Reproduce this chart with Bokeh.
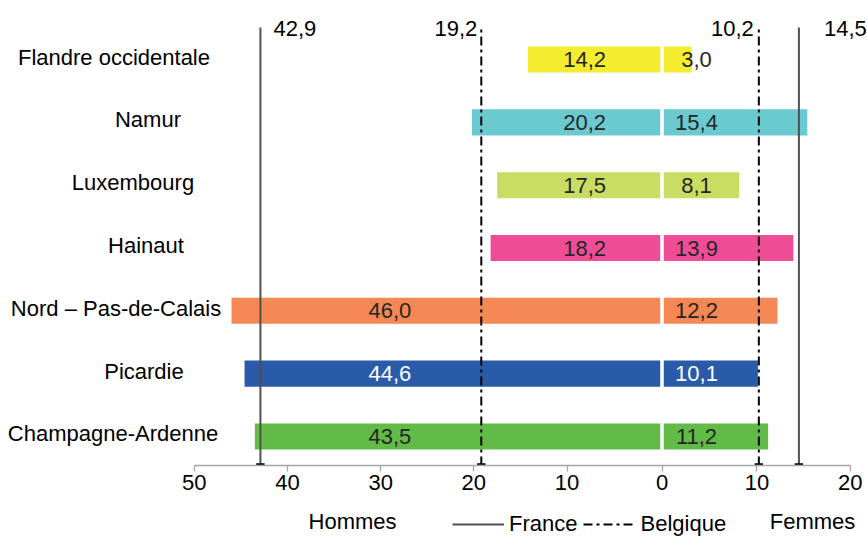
import numpy as np
from bokeh.plotting import figure
from bokeh.layouts import column
from bokeh.models import ColumnDataSource, FixedTicker, Range1d, Legend, LegendItem
from bokeh.core.properties import value
from bokeh.embed import file_html
from bokeh.resources import INLINE

# ---- data ----
regions = ["Flandre occidentale", "Namur", "Luxembourg", "Hainaut",
           "Nord – Pas-de-Calais", "Picardie", "Champagne-Ardenne"]
hommes = [14.2, 20.2, 17.5, 18.2, 46.0, 44.6, 43.5]
femmes = [3.0, 15.4, 8.1, 13.9, 12.2, 10.1, 11.2]
colors = ["#F4EC2E", "#6BCAD0", "#C9DD62", "#EF4E97", "#F58854", "#2A5BA8", "#62BB46"]
value_colors = ["#262626", "#262626", "#262626", "#262626", "#262626", "#FFFFFF", "#262626"]
france_hommes, france_femmes = 42.9, 14.5
belgique_hommes, belgique_femmes = 19.2, 10.2
left_ticks = [50, 40, 30, 20, 10, 0]
right_ticks = [10, 20]

FONT = "Liberation Sans"
FS = "22px"
g = 0.19          # half gap between the two halves
fmt = lambda v: f"{v:.1f}".replace(".", ",")

n = len(regions)
ys = np.arange(n)[::-1].astype(float)   # top row first
h = np.array(hommes)
f = np.array(femmes)

# per-label horizontal nudges (px) of the region names, as in the original layout
name_nudge = [-14, 20, 5, 18, -12, 16, -15]

xr = Range1d(-70.98, 22.05)
p = figure(width=867, height=505, x_range=xr, y_range=Range1d(-0.462, 6.94),
           min_border_left=0, min_border_right=0, min_border_top=0, min_border_bottom=40,
           y_axis_location=None, toolbar_location=None, output_backend="svg")
p.outline_line_color = None
p.xgrid.visible = False
p.ygrid.visible = False

# bars
src = ColumnDataSource(dict(y=ys, hl=-h - g, hr=np.full(n, -g), fl=np.full(n, g), fr=f + g,
                            color=colors, vc=value_colors,
                            hlab=[fmt(v) for v in hommes], flab=[fmt(v) for v in femmes],
                            hx=np.where(h > 30, -29.2, -8.3), fx=np.full(n, 3.7),
                            reg=regions, regx=np.full(n, -57.3), nudge=name_nudge))
p.hbar(y="y", left="hl", right="hr", height=0.415, fill_color="color", line_color=None, source=src)
p.hbar(y="y", left="fl", right="fr", height=0.415, fill_color="color", line_color=None, source=src)

p.text(x="hx", y="y", text="hlab", text_color="vc", text_align="center", text_baseline="middle",
       text_font=value(FONT), text_font_size=FS, source=src)
p.text(x="fx", y="y", text="flab", text_color="vc", text_align="center", text_baseline="middle",
       text_font=value(FONT), text_font_size=FS, source=src)
p.text(x="regx", y="y", text="reg", text_color="#000000", text_align="center", text_baseline="middle",
       x_offset="nudge", y_offset=-2.5, text_font=value(FONT), text_font_size=FS, source=src)

# reference lines
y_top = 6.51
y_bot = -0.462
fr_x = [-france_hommes - g, france_femmes + g]
be_x = [-belgique_hommes - g, belgique_femmes + g]
fr_style = dict(line_color="#505050", line_width=2)
be_style = dict(line_color="#000000", line_width=2, line_dash="9 4 3 4")
p.segment(x0=fr_x, y0=[y_bot] * 2, x1=fr_x, y1=[y_top] * 2, **fr_style)
p.segment(x0=be_x, y0=[y_bot] * 2, x1=be_x, y1=[y_top] * 2, **be_style)
caps = fr_x + be_x
p.segment(x0=[c - 0.45 for c in caps], y0=[y_bot + 0.02] * 4, x1=[c + 0.45 for c in caps],
          y1=[y_bot + 0.02] * 4, line_color="#000000", line_width=2)

top_src = ColumnDataSource(dict(
    x=[fr_x[0], be_x[0], be_x[1], fr_x[1]],
    t=[fmt(france_hommes), fmt(belgique_hommes), fmt(belgique_femmes), fmt(france_femmes)],
    al=["left", "right", "right", "left"],
    xo=[13, -4, -5, 25]))
p.text(x="x", y=6.494, text="t", text_align="al", x_offset="xo", text_baseline="middle",
       text_color="#000000", text_font=value(FONT), text_font_size=FS, source=top_src)

# x axis
tick_vals = [-(t + g) if t else 0.0 for t in left_ticks] + [t + g for t in right_ticks]
tick_labs = [str(t) for t in left_ticks] + [str(t) for t in right_ticks]
ax = p.xaxis[0]
ax.ticker = FixedTicker(ticks=tick_vals)
ax.major_label_overrides = {v: l for v, l in zip(tick_vals, tick_labs)}
ax.bounds = (-(left_ticks[0] + g), right_ticks[-1] + g)
ax.axis_line_color = "#A6A6A6"
ax.axis_line_width = 1.3
ax.major_tick_line_color = "#A6A6A6"
ax.major_tick_line_width = 1.3
ax.major_tick_in = 0
ax.major_tick_out = 6
ax.minor_tick_in = 0
ax.minor_tick_out = 0
ax.major_label_standoff = 3
ax.major_label_text_font = FONT
ax.major_label_text_font_size = FS
ax.major_label_text_color = "#000000"

# bottom strip: side labels and legend
p2 = figure(width=867, height=32, x_range=xr, y_range=Range1d(0, 32),
            min_border=0, x_axis_location=None, y_axis_location=None,
            toolbar_location=None, output_backend="svg")
p2.outline_line_color = None
p2.grid.visible = False
# legend proxies (same reference values, kept outside this strip's visible range)
r_fr = p2.segment(x0=fr_x, y0=[-50] * 2, x1=fr_x, y1=[-40] * 2, **fr_style)
r_be = p2.segment(x0=be_x, y0=[-50] * 2, x1=be_x, y1=[-40] * 2, **be_style)
p2.text(x=[-33.2, 16.15], y=[16, 16], text=["Hommes", "Femmes"], text_align="center",
        text_baseline="middle", text_color="#000000", text_font=value(FONT), text_font_size=FS)
legend = Legend(items=[LegendItem(label="France", renderers=[r_fr]),
                       LegendItem(label="Belgique", renderers=[r_be])],
                orientation="horizontal", location=(452, 0),
                label_text_font=FONT, label_text_font_size=FS, label_text_color="#000000",
                glyph_width=52, glyph_height=20, label_height=22, label_standoff=5, spacing=6,
                padding=0, margin=0, border_line_color=None, background_fill_alpha=0)
p2.add_layout(legend)

layout = column(p, p2, spacing=0)
open("out.html", "w").write(file_html(layout, INLINE))
